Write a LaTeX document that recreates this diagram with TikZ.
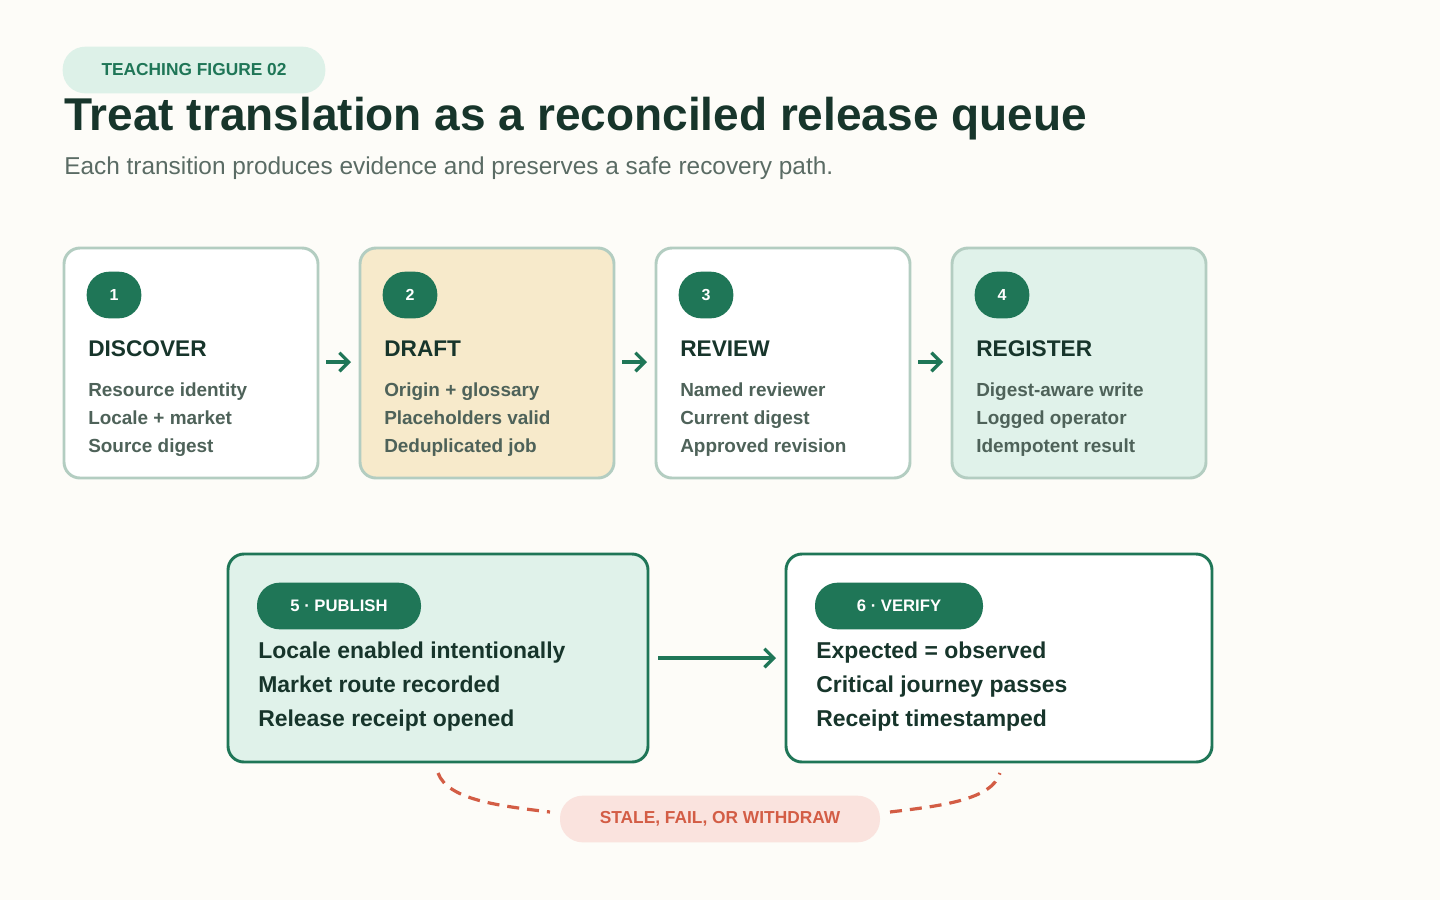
\documentclass[tikz,border=0pt]{standalone}
\usepackage{fontspec}
\setmainfont{Liberation Sans}
\usetikzlibrary{arrows.meta}
\definecolor{bg}{HTML}{FDFCF8}
\definecolor{dg}{HTML}{1F7657}
\definecolor{ink}{HTML}{17352B}
\definecolor{sub}{HTML}{5A6B64}
\definecolor{body}{HTML}{4E6259}
\definecolor{lb}{HTML}{B3CDC1}
\definecolor{mint}{HTML}{E0F2EA}
\definecolor{sand}{HTML}{F7EACB}
\definecolor{rd}{HTML}{D35D45}
\definecolor{pink}{HTML}{FAE3DE}
\definecolor{tagbg}{HTML}{DDF1E8}
\begin{document}
\begin{tikzpicture}[x=0.75pt,y=-0.75pt,
  card/.style={draw=lb,line width=2.2pt,rounded corners=12pt},
  bigcard/.style={draw=dg,line width=2.2pt,rounded corners=12pt},
  num/.style={fill=dg,text=white,rounded corners=17pt,minimum width=41pt,minimum height=35pt,inner sep=0pt,font=\bfseries\fontsize{12}{14}\selectfont},
  pill/.style={fill=dg,text=white,rounded corners=17pt,minimum height=35pt,inner sep=0pt,font=\bfseries\fontsize{12.5}{14}\selectfont},
  head/.style={anchor=base west,text=ink,font=\bfseries\fontsize{17}{20}\selectfont,inner sep=0pt},
  line/.style={anchor=base west,text=body,font=\bfseries\fontsize{14.2}{16}\selectfont,inner sep=0pt},
  bline/.style={anchor=base west,text=ink,font=\bfseries\fontsize{17.2}{20}\selectfont,inner sep=0pt},
  flow/.style={draw=dg,line width=2.4pt,-{Straight Barb[length=7pt,width=14pt,line width=2.4pt]}},
  loop/.style={draw=rd,line width=2.4pt,dash pattern=on 9pt off 6pt}]
\fill[bg] (0,0) rectangle (1440,900);
\useasboundingbox (0,0) rectangle (1440,900);
\node[fill=tagbg,rounded corners=17pt,minimum width=197pt,minimum height=35pt,text=dg,font=\bfseries\fontsize{13}{15}\selectfont] (tag) at (194,70) {TEACHING FIGURE 02};
\node[anchor=base west,inner sep=0pt,text=ink,font=\bfseries\fontsize{34.5}{40}\selectfont] (title) at (64,130) {Treat translation as a reconciled release queue};
\node[anchor=base west,inner sep=0pt,text=sub,font=\fontsize{18.3}{22}\selectfont] (subt) at (64,174) {Each transition produces evidence and preserves a safe recovery path.};
% cards
\draw[card,fill=white] (64,248) rectangle (318,478);
\draw[card,fill=sand] (360,248) rectangle (614,478);
\draw[card,fill=white] (656,248) rectangle (910,478);
\draw[card,fill=mint] (952,248) rectangle (1206,478);
\node[num] (n1) at (114,295) {1};
\node[num] (n2) at (410,295) {2};
\node[num] (n3) at (706,295) {3};
\node[num] (n4) at (1002,295) {4};
\node[head] (h1) at (88,356) {DISCOVER};
\node[head] (h2) at (384,356) {DRAFT};
\node[head] (h3) at (680,356) {REVIEW};
\node[head] (h4) at (976,356) {REGISTER};
\node[line] (a1) at (88,396) {Resource identity};
\node[line] (a2) at (88,424) {Locale + market};
\node[line] (a3) at (88,452) {Source digest};
\node[line] (b1) at (384,396) {Origin + glossary};
\node[line] (b2) at (384,424) {Placeholders valid};
\node[line] (b3) at (384,452) {Deduplicated job};
\node[line] (d1) at (680,396) {Named reviewer};
\node[line] (d2) at (680,424) {Current digest};
\node[line] (d3) at (680,452) {Approved revision};
\node[line] (e1) at (976,396) {Digest-aware write};
\node[line] (e2) at (976,424) {Logged operator};
\node[line] (e3) at (976,452) {Idempotent result};
\coordinate (c1r) at (326,362); \coordinate (c2l) at (351,362);
\coordinate (c2r) at (622,362); \coordinate (c3l) at (647,362);
\coordinate (c3r) at (918,362); \coordinate (c4l) at (943,362);
\draw[flow] (c1r) -- (c2l);
\draw[flow] (c2r) -- (c3l);
\draw[flow] (c3r) -- (c4l);
% bottom
\draw[bigcard,fill=mint] (228,554) rectangle (648,762);
\draw[bigcard,fill=white] (786,554) rectangle (1212,762);
\node[pill,minimum width=123pt] (p5) at (339,606) {5 · PUBLISH};
\node[pill,minimum width=126pt] (p6) at (899,606) {6 · VERIFY};
\node[bline] (f1) at (258,658) {Locale enabled intentionally};
\node[bline] (f2) at (258,692) {Market route recorded};
\node[bline] (f3) at (258,726) {Release receipt opened};
\node[bline] (g1) at (816,658) {Expected = observed};
\node[bline] (g2) at (816,692) {Critical journey passes};
\node[bline] (g3) at (816,726) {Receipt timestamped};
\coordinate (pubr) at (658,658); \coordinate (verl) at (776,658);
\draw[flow] (pubr) -- (verl);
\node[fill=pink,rounded corners=17pt,minimum width=240pt,minimum height=35pt,text=rd,font=\bfseries\fontsize{13}{15}\selectfont] (fail) at (720,819) {STALE, FAIL, OR WITHDRAW};
\coordinate (l0) at (438,773); \coordinate (r0) at (1000,773);
\coordinate (l1) at (550,812); \coordinate (r1) at (890,812);
\draw[loop] (l0) .. controls (448,800) and (500,806) .. (l1);
\draw[loop] (r1) .. controls (940,806) and (992,800) .. (r0);
\end{tikzpicture}
\end{document}
